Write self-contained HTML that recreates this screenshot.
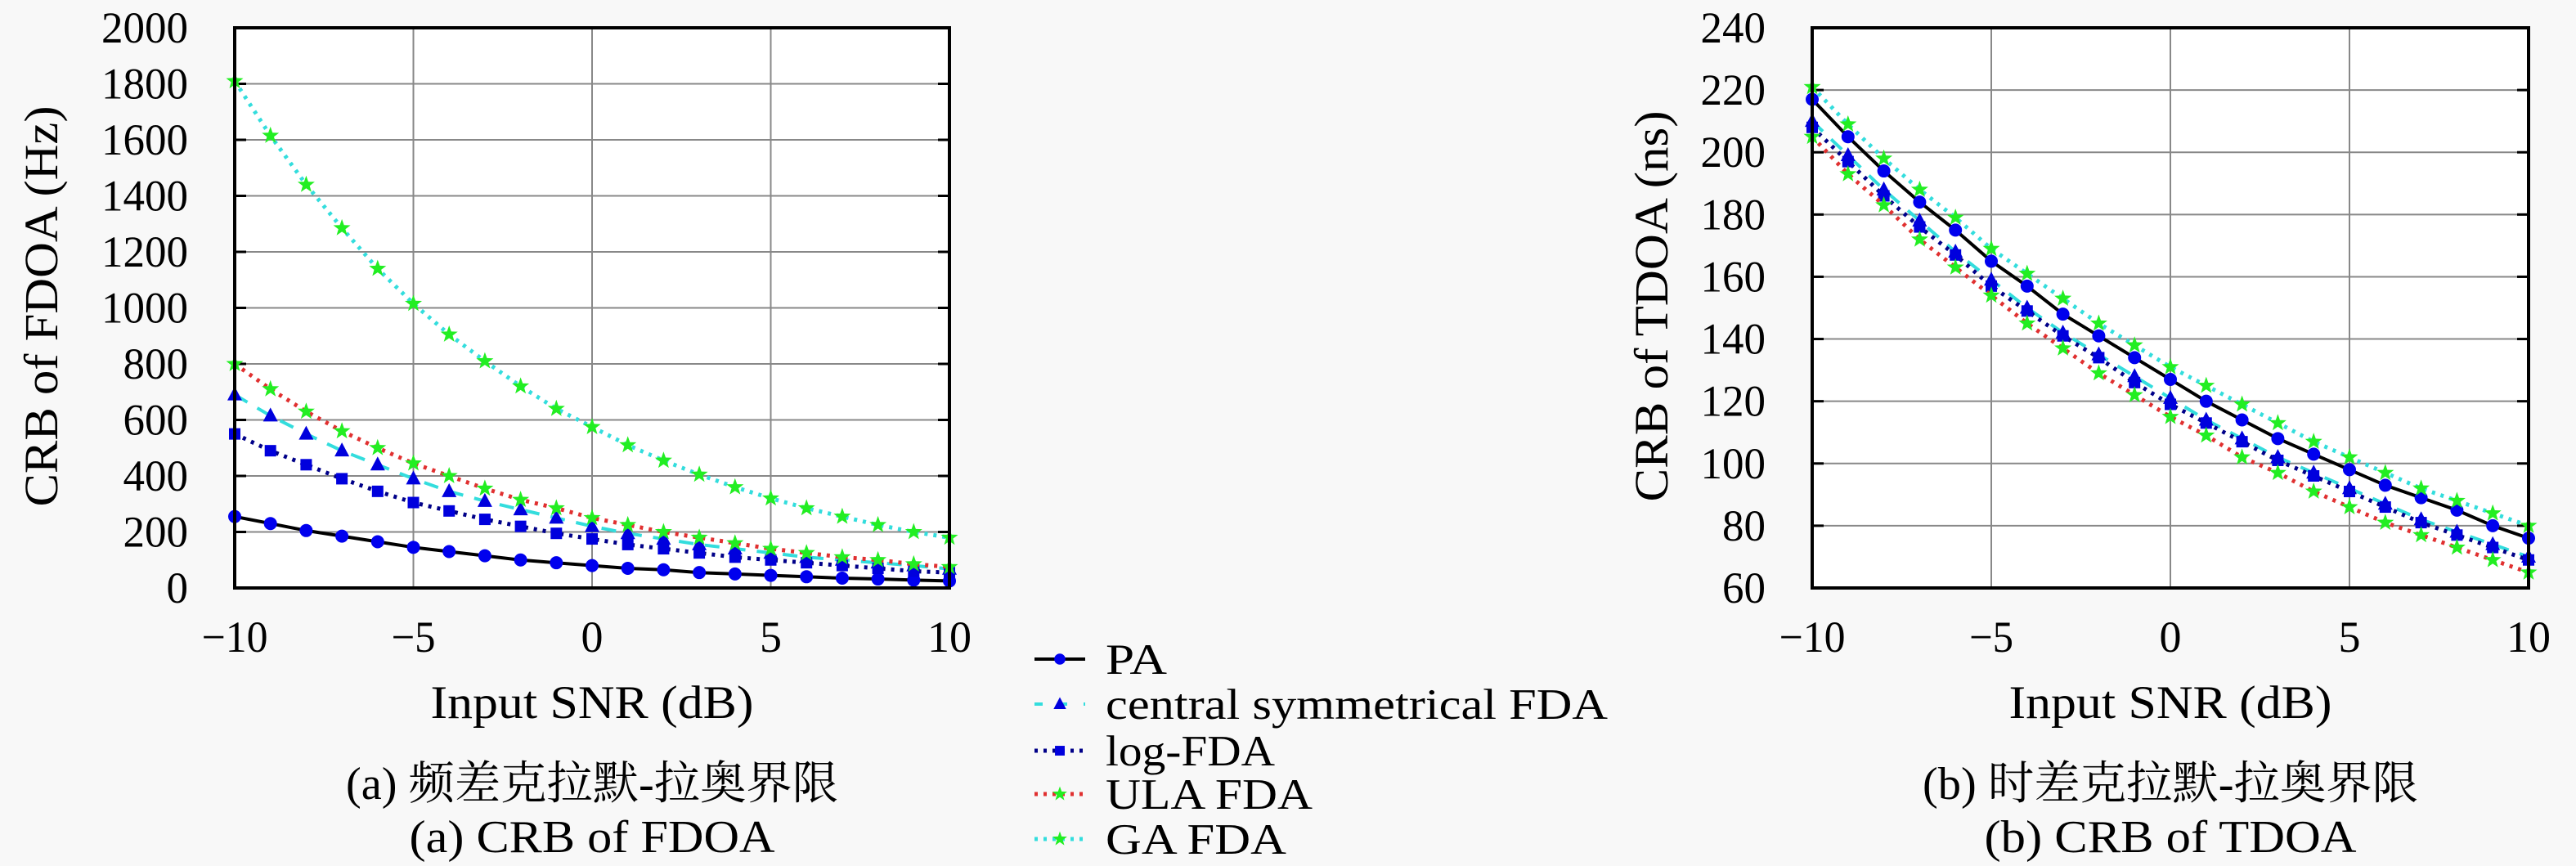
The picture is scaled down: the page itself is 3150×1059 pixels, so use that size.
<!DOCTYPE html>
<html><head><meta charset="utf-8"><style>
html,body{margin:0;padding:0;background:#f8f8f8;}
svg{display:block;}
text{font-family:"Liberation Serif","Noto Serif CJK SC","Noto Sans CJK SC",serif;fill:#000;}
</style></head><body>
<svg id="fig" width="3150" height="1059" viewBox="0 0 3150 1059" xmlns="http://www.w3.org/2000/svg">
<g id="left"></g>
<g id="right"></g>
<g id="legend"></g>
</svg>
<script>
const snr = [-10,-9,-8,-7,-6,-5,-4,-3,-2,-1,0,1,2,3,4,5,6,7,8,9,10];
const xTicks = [-10,-5,0,5,10];
const xTickLabels = ["\u221210","\u22125","0","5","10"];
const fdoaTicks = [0,200,400,600,800,1000,1200,1400,1600,1800,2000];
const tdoaTicks = [60,80,100,120,140,160,180,200,220,240];
const seriesNames = ["PA","central symmetrical FDA","log-FDA","ULA FDA","GA FDA"];
const fdoaPA = [255,230,205,185,165,145,130,115,100,90,80,70,65,55,50,45,40,35,32,28,25];
const fdoaCS = [690,615,550,490,440,390,345,310,280,250,220,195,175,155,140,125,110,100,90,80,68];
const fdoaLog = [550,490,440,390,345,305,275,245,220,195,175,155,140,125,110,100,90,80,70,60,55];
const fdoaULA = [800,710,630,560,500,445,400,355,315,285,250,225,200,180,160,140,125,110,100,85,75];
const fdoaGA = [1810,1615,1440,1285,1140,1015,905,810,720,640,575,510,455,405,360,320,285,255,225,200,180];
const tdoaPA = [217,205,194,184,175,165,157,148,141,134,127,120,114,108,103,98,93,89,85,80,76];
const tdoaCS = [210,199,188,178,168,159,150,142,135,128,121,114,108,102,97,92,87,82,78,74,70];
const tdoaLog = [208,197,186,176,167,157,149,141,134,126,119,113,107,101,96,91,86,81,77,73,69];
const tdoaULA = [205,193,183,172,163,154,145,137,129,122,115,109,102,97,91,86,81,77,73,69,65];
const tdoaGA = [221,209,198,188,179,169,161,153,145,138,131,125,119,113,107,102,97,92,88,84,80];

const NS="http://www.w3.org/2000/svg";
function mk(tag,attrs,parent){const e=document.createElementNS(NS,tag);for(const k in attrs)e.setAttribute(k,attrs[k]);if(parent)parent.appendChild(e);return e;}
function txt(parent,x,y,s,fs,len,anchor,extra){const t=mk('text',Object.assign({x:x,y:y,'font-size':fs,'text-anchor':anchor||'middle'},extra||{}),parent);if(len){t.setAttribute('textLength',len);t.setAttribute('lengthAdjust','spacingAndGlyphs');}t.textContent=s;return t;}

const styles=[
 {line:'#000',dash:'',w:4,marker:'circle'},
 {line:'#33dddd',dash:'18 14',w:4,marker:'tri'},
 {line:'#000088',dash:'4 7',w:5,marker:'square'},
 {line:'#e03030',dash:'4 7',w:5,marker:'star'},
 {line:'#33dddd',dash:'4 7',w:5,marker:'star'}];

function marker(g,type,x,y,s){
  let m;
  if(type==='circle') m=mk('circle',{cx:x,cy:y,r:8*s,fill:'#0000ee'},g);
  else if(type==='tri') m=mk('polygon',{points:`${x},${y-10*s} ${x-9*s},${y+7*s} ${x+9*s},${y+7*s}`,fill:'#0000dd'},g);
  else if(type==='square') m=mk('rect',{x:x-7*s,y:y-7*s,width:14*s,height:14*s,fill:'#0000dd'},g);
  else {let p=[];for(let i=0;i<10;i++){const r=i%2?4.5*s:11*s;const a=-Math.PI/2+i*Math.PI/5;p.push((x+r*Math.cos(a)).toFixed(1)+','+(y+r*Math.sin(a)).toFixed(1));}
    m=mk('polygon',{points:p.join(' '),fill:'#22ee22'},g);}
  return m;
}

function chart(g,L,R,T,B,yTicks,yMin,yMax,series,ytitle,ylen,ytx,cap1,cap1len,cap2,cap2len,ylabW){
  const xs=v=>L+(v+10)/20*(R-L);
  const ys=v=>B-(v-yMin)/(yMax-yMin)*(B-T);
  const plot=mk('rect',{x:L,y:T,width:R-L,height:B-T,fill:'#fff'},g);
  
  
  yTicks.forEach(v=>{
    if(v!==yMin&&v!==yMax){const gl=mk('line',{x1:L,x2:R,y1:ys(v),y2:ys(v),stroke:'#888','stroke-width':2},g);
    }
    mk('line',{x1:L,x2:L+14,y1:ys(v),y2:ys(v),stroke:'#000','stroke-width':3},g);
    mk('line',{x1:R-14,x2:R,y1:ys(v),y2:ys(v),stroke:'#000','stroke-width':3},g);
    const s=String(v);
    const t=txt(g,L-57,ys(v)+18,s,54,s.length*(ylabW),'end');
    
  });
  xTicks.forEach((v,i)=>{
    if(v!==-10&&v!==10){const gl=mk('line',{x1:xs(v),x2:xs(v),y1:T,y2:B,stroke:'#888','stroke-width':2},g);
    }
    const s=xTickLabels[i];
    const t=txt(g,xs(v),797,s,54,s.length*27);
    
  });
  series.forEach((d,si)=>{
    const st=styles[si];
    const sg=mk('g',{},g);
    
    
    const pts=d.map((v,i)=>xs(snr[i]).toFixed(1)+','+ys(v).toFixed(1)).join(' ');
    const pl=mk('polyline',{points:pts,fill:'none',stroke:st.line,'stroke-width':st.w,'stroke-dasharray':st.dash,'stroke-linecap':st.dash?'butt':'round'},sg);
    
    d.forEach((v,i)=>{const m=marker(sg,st.marker,xs(snr[i]),ys(v),1);
      });
  });
  const fr=mk('rect',{x:L,y:T,width:R-L,height:B-T,fill:'none',stroke:'#000','stroke-width':4},g);
  
  const cx=(L+R)/2;
  const yt=txt(g,0,0,ytitle,58,ylen,'middle',{transform:`translate(${ytx},${(T+B)/2-2}) rotate(-90)`});
  
  const xt=txt(g,cx,878,'Input SNR (dB)',57,395);
  
  const c1=txt(g,cx,977,cap1,56,cap1len);
  
  const c2=txt(g,cx,1042,cap2,56,cap2len);
  
}

chart(document.getElementById('left'),287,1161,34,719,fdoaTicks,0,2000,
  [fdoaPA,fdoaCS,fdoaLog,fdoaULA,fdoaGA],'CRB of FDOA (Hz)',490,70,
  '(a) 频差克拉默-拉奥界限',602,'(a) CRB of FDOA',447,26.5);
chart(document.getElementById('right'),2216,3092,34,719,tdoaTicks,60,240,
  [tdoaPA,tdoaCS,tdoaLog,tdoaULA,tdoaGA],'CRB of TDOA (ns)',478,2039,
  '(b) 时差克拉默-拉奥界限',606,'(b) CRB of TDOA',455,26.5);

const lg=document.getElementById('legend');
const legendY=[806,861,918,971,1026];
const legendLen=[75,614,207,253,221];
seriesNames.forEach((n,i)=>{
  const st=styles[i];
  const eg=mk('g',{},lg);
  
  
  mk('line',{x1:1265,x2:1327,y1:legendY[i],y2:legendY[i],stroke:st.line,'stroke-width':st.w,'stroke-dasharray':st.dash==='18 14'?'10 20':st.dash},eg);
  marker(eg,st.marker,1296,legendY[i],0.85);
  const t=txt(eg,1352,legendY[i]+18,n,53,legendLen[i],'start');
  
  
});
</script>
</body></html>
